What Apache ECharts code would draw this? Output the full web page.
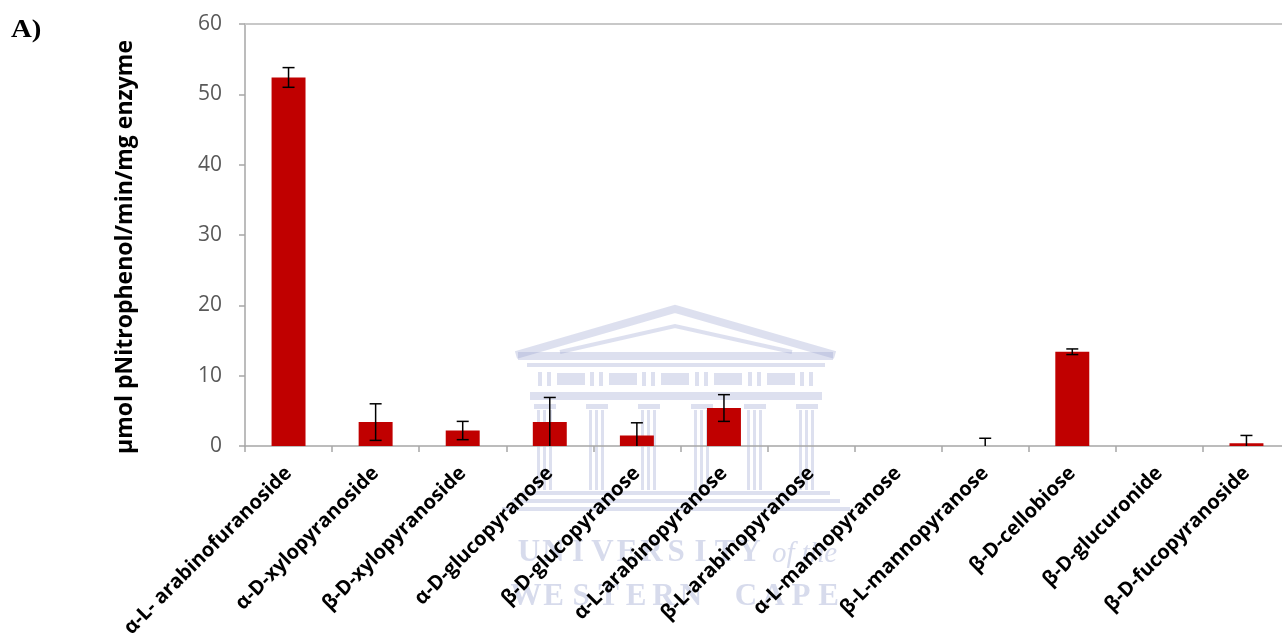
<!DOCTYPE html>
<html>
<head>
<meta charset="utf-8">
<script src="https://cdn.jsdelivr.net/npm/echarts@6/dist/echarts.min.js"></script>
<style>
  html, body { margin: 0; padding: 0; background: #fff; }
  #chart { width: 1282px; height: 639px; }
</style>
</head>
<body>
<div id="chart"></div>
<script>
// Substrate specificity: activity per substrate (mean ± error)
const substrates = [
  'α-L- arabinofuranoside', 'α-D-xylopyranoside', 'β-D-xylopyranoside',
  'α-D-glucopyranose', 'β-D-glucopyranose', 'α-L-arabinopyranose',
  'β-L-arabinopyranose', 'α-L-mannopyranose', 'β-L-mannopyranose',
  'β-D-cellobiose', 'β-D-glucuronide', 'β-D-fucopyranoside'
];
const activity = [52.4, 3.4, 2.2, 3.4, 1.5, 5.4, 0, 0, 0, 13.4, 0, 0.4];
const activityErr = [1.4, 2.6, 1.3, 3.5, 1.8, 1.9, 0, 0, 1.1, 0.4, 0, 1.1];
const yTicks = { min: 0, max: 60, interval: 10 };
const yTitle = 'μmol pNitrophenol/min/mg enzyme';
const panelTag = 'A)';

const errData = activity.map((v, i) => [i, v, activityErr[i]]);

// Faint university crest behind the plot
const wmFill = 'rgba(150,160,205,0.32)';
const crest = [];
crest.push({ type: 'polyline', shape: { points: [[516, 355], [675, 309], [835, 355]] },
  style: { stroke: wmFill, lineWidth: 8, fill: null } });
crest.push({ type: 'polyline', shape: { points: [[560, 352], [675, 326], [792, 352]] },
  style: { stroke: wmFill, lineWidth: 4, fill: null } });
crest.push({ type: 'rect', shape: { x: 518, y: 352, width: 315, height: 8 }, style: { fill: wmFill } });
crest.push({ type: 'rect', shape: { x: 527, y: 363, width: 298, height: 4 }, style: { fill: wmFill } });
const colX = [545, 597, 649, 702, 755, 807];
colX.forEach(cx => {
  // triglyph pair
  crest.push({ type: 'rect', shape: { x: cx - 7, y: 372, width: 4, height: 14 }, style: { fill: wmFill } });
  crest.push({ type: 'rect', shape: { x: cx + 2, y: 372, width: 4, height: 14 }, style: { fill: wmFill } });
  // column shafts
  [-8, -2, 4].forEach(dx => {
    crest.push({ type: 'rect', shape: { x: cx + dx, y: 410, width: 3, height: 80 }, style: { fill: wmFill } });
  });
  crest.push({ type: 'rect', shape: { x: cx - 11, y: 404, width: 22, height: 5 }, style: { fill: wmFill } });
});
for (let k = 0; k < colX.length - 1; k++) {
  crest.push({ type: 'rect', shape: { x: colX[k] + 12, y: 373, width: 28, height: 12 }, style: { fill: wmFill } });
}
crest.push({ type: 'rect', shape: { x: 530, y: 392, width: 292, height: 8 }, style: { fill: wmFill } });
crest.push({ type: 'rect', shape: { x: 522, y: 491, width: 308, height: 4 }, style: { fill: wmFill } });
crest.push({ type: 'rect', shape: { x: 512, y: 499, width: 328, height: 4 }, style: { fill: wmFill } });
crest.push({ type: 'rect', shape: { x: 502, y: 507, width: 348, height: 4 }, style: { fill: wmFill } });

const wmText = 'rgba(150,160,205,0.38)';
const line1 = 'UNIVERSITY';
line1.split('').forEach((ch, i) => {
  crest.push({ type: 'text', x: 529 + i * 24.5, y: 568,
    style: { text: ch, font: 'bold 31px "Liberation Serif"', fill: wmText, align: 'center', verticalAlign: 'bottom' } });
});
crest.push({ type: 'text', x: 772, y: 569,
  style: { text: 'of the', font: 'italic 29px "Liberation Serif"', fill: wmText, align: 'left', verticalAlign: 'bottom' } });
const line2 = 'WESTERN CAPE';
line2.split('').forEach((ch, i) => {
  crest.push({ type: 'text', x: 526 + i * 27.5, y: 612,
    style: { text: ch, font: 'bold 31px "Liberation Serif"', fill: wmText, align: 'center', verticalAlign: 'bottom' } });
});

const chart = echarts.init(document.getElementById('chart'), null, { renderer: 'canvas' });
chart.setOption({
  animation: false,
  backgroundColor: '#ffffff',
  grid: { left: 245, right: -8, top: 24, bottom: 193, outerBoundsMode: 'none', containLabel: false },
  graphic: [
    { type: 'group', z: 0, silent: true, children: crest },
    { type: 'text', left: 11, top: 18, z: 10, scaleX: 1.15,
      style: { text: panelTag, font: 'bold 25px "Liberation Serif"', fill: '#000' } }
  ],
  xAxis: {
    type: 'category',
    data: substrates,
    axisLine: { lineStyle: { color: '#a6a6a6', width: 1.5 } },
    axisTick: { show: true, alignWithLabel: false, length: 6, lineStyle: { color: '#a6a6a6', width: 1.5 } },
    axisLabel: {
      interval: 0, rotate: 45, margin: 24,
      color: '#000', fontFamily: 'Open Sans', fontWeight: 'bold', fontSize: 20
    },
    splitLine: { show: false }
  },
  yAxis: {
    type: 'value',
    min: yTicks.min, max: yTicks.max, interval: yTicks.interval,
    name: yTitle,
    nameLocation: 'middle',
    nameGap: 108,
    nameTextStyle: { fontFamily: 'Open Sans', fontWeight: 'bold', fontSize: 23, color: '#000', padding: [0, 24, 0, 0] },
    axisLine: { show: true, lineStyle: { color: '#a6a6a6', width: 1.5 } },
    axisTick: { show: true, length: 6, lineStyle: { color: '#a6a6a6', width: 1.5 } },
    axisLabel: { margin: 23, color: '#595959', fontFamily: 'Open Sans', fontSize: 21 },
    splitLine: { show: false }
  },
  series: [
    {
      type: 'bar',
      data: activity,
      barWidth: '39%',
      itemStyle: { color: '#c00000' },
      z: 2,
      markLine: {
        silent: true, symbol: 'none', label: { show: false },
        lineStyle: { color: '#c8c8c8', width: 2, type: 'solid' },
        data: [{ yAxis: yTicks.max }]
      }
    },
    {
      type: 'custom',
      data: errData,
      z: 3,
      renderItem: function (params, api) {
        const idx = api.value(0), v = api.value(1), e = api.value(2);
        if (!e) return null;
        const lo = Math.max(0, v - e), hi = v + e;
        const top = api.coord([idx, hi]);
        const bot = api.coord([idx, lo]);
        const half = 6;
        const style = { stroke: '#000', lineWidth: 1.5 };
        const kids = [
          { type: 'line', shape: { x1: top[0], y1: top[1], x2: bot[0], y2: bot[1] }, style },
          { type: 'line', shape: { x1: top[0] - half, y1: top[1], x2: top[0] + half, y2: top[1] }, style }
        ];
        if (v - e > 0) {
          kids.push({ type: 'line', shape: { x1: bot[0] - half, y1: bot[1], x2: bot[0] + half, y2: bot[1] }, style });
        }
        return { type: 'group', children: kids };
      }
    }
  ]
});
</script>
</body>
</html>
